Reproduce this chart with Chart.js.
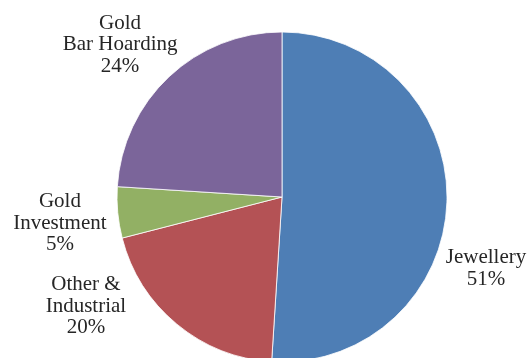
<!DOCTYPE html>
<html>
<head>
<meta charset="utf-8">
<script src="https://cdn.jsdelivr.net/npm/chart.js@4/dist/chart.umd.min.js"></script>
<style>
  html, body { margin: 0; padding: 0; background: #fff; overflow: hidden; }
  #wrap { width: 528px; height: 358px; position: relative; }
</style>
</head>
<body>
<div id="wrap"><canvas id="c" width="528" height="358"></canvas></div>
<script>
// Gold demand by use
const categories = ['Jewellery', 'Other & Industrial', 'Gold Investment', 'Gold Bar Hoarding'];
const labelLines = [['Jewellery'], ['Other &', 'Industrial'], ['Gold', 'Investment'], ['Gold', 'Bar Hoarding']];
const shares = [51, 20, 5, 24];
const sliceColors = ['#4e7eb5', '#b45255', '#92b064', '#7b659a'];

// Where each label sits: turn (degrees) from the slice's middle, and distance as a multiple of the radius
const labelPlacement = [
  { turn: 17.5, dist: 1.31 },
  { turn: 21.3, dist: 1.36 },
  { turn: -1.3, dist: 1.355 },
  { turn: -3.6, dist: 1.346 }
];

const sliceLabels = {
  id: 'sliceLabels',
  afterDatasetsDraw(chart) {
    const ctx = chart.ctx;
    const meta = chart.getDatasetMeta(0);
    const fontSize = 21, lineH = 21.5;
    ctx.save();
    ctx.font = fontSize + 'px "Liberation Serif", "Times New Roman", serif';
    ctx.fillStyle = '#262626';
    ctx.textAlign = 'center';
    ctx.textBaseline = 'middle';
    meta.data.forEach((arc, i) => {
      const p = arc.getProps(['x', 'y', 'startAngle', 'endAngle', 'outerRadius'], true);
      const place = labelPlacement[i];
      const a = (p.startAngle + p.endAngle) / 2 + place.turn * Math.PI / 180;
      const r = p.outerRadius * place.dist;
      const cx = p.x + Math.cos(a) * r;
      const cy = p.y + Math.sin(a) * r;
      const lines = labelLines[i].concat([shares[i] + '%']);
      const top = cy - (lines.length - 1) * lineH / 2;
      lines.forEach((t, k) => ctx.fillText(t, cx, top + k * lineH));
    });
    ctx.restore();
  }
};

new Chart(document.getElementById('c'), {
  type: 'pie',
  data: {
    labels: categories,
    datasets: [{
      data: shares,
      backgroundColor: sliceColors,
      borderColor: '#ffffff',
      borderWidth: 0.8,
      radius: 165
    }]
  },
  options: {
    responsive: false,
    animation: false,
    layout: { padding: { left: 36, right: 0, top: 36, bottom: 0 } },
    plugins: {
      legend: { display: false },
      tooltip: { enabled: false }
    }
  },
  plugins: [sliceLabels]
});
</script>
</body>
</html>
